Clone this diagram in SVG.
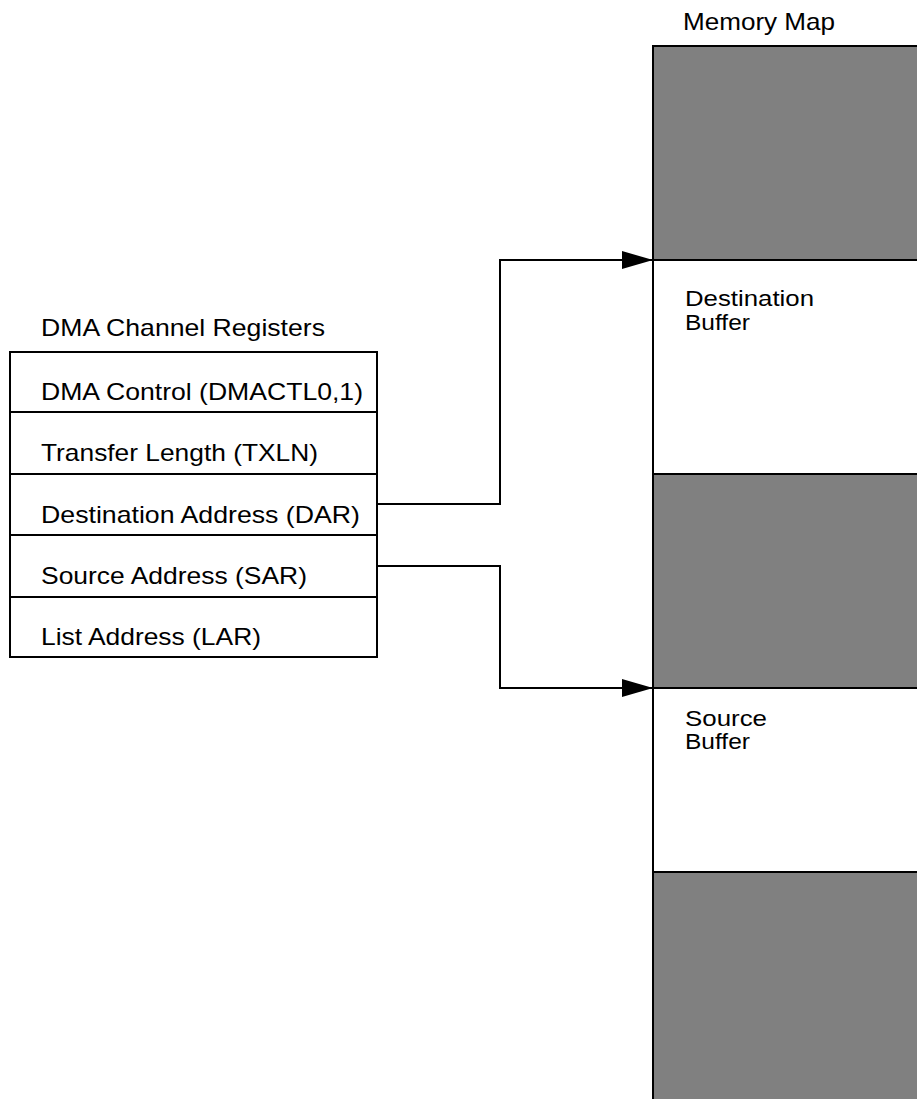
<svg xmlns="http://www.w3.org/2000/svg" width="917" height="1099" viewBox="0 0 917 1099">
<style>
text{font-family:"Liberation Sans",Arial,sans-serif;font-size:24px;fill:#000}
text.buf{font-size:22px}
.ln{stroke:#000;stroke-width:2;fill:none}
.gray{fill:#808080}
</style>
<defs>
<marker id="ah" markerWidth="32" markerHeight="20" refX="31" refY="9" orient="auto" markerUnits="userSpaceOnUse">
<path d="M0,0 L31,9 L0,18 Z" fill="#000"/>
</marker>
</defs>
<rect width="917" height="1099" fill="#fff"/>
<g id="memory-map">
<text x="683" y="30" textLength="152" lengthAdjust="spacingAndGlyphs">Memory Map</text>
<rect class="gray" x="653" y="46" width="270" height="214"/>
<rect class="gray" x="653" y="474" width="270" height="214"/>
<rect class="gray" x="653" y="872" width="270" height="230"/>
<path class="ln" d="M653,1100 V46 H920 M653,260 H920 M653,474 H920 M653,688 H920 M653,872 H920"/>
</g>
<g id="dest-buffer">
<text class="buf" x="685" y="306" textLength="129" lengthAdjust="spacingAndGlyphs">Destination</text>
<text class="buf" x="685" y="330" textLength="65" lengthAdjust="spacingAndGlyphs">Buffer</text>
</g>
<g id="source-buffer">
<text class="buf" x="685" y="726" textLength="82" lengthAdjust="spacingAndGlyphs">Source</text>
<text class="buf" x="685" y="749" textLength="65" lengthAdjust="spacingAndGlyphs">Buffer</text>
</g>
<g id="registers">
<text x="41" y="336" textLength="284" lengthAdjust="spacingAndGlyphs">DMA Channel Registers</text>
<rect class="ln" x="10" y="352" width="367" height="305"/>
<path class="ln" d="M10,412 H377 M10,474 H377 M10,535 H377 M10,597 H377"/>
<text x="41" y="400" textLength="322" lengthAdjust="spacingAndGlyphs">DMA Control (DMACTL0,1)</text>
<text x="41" y="461" textLength="277" lengthAdjust="spacingAndGlyphs">Transfer Length (TXLN)</text>
<text x="41" y="523" textLength="319" lengthAdjust="spacingAndGlyphs">Destination Address (DAR)</text>
<text x="41" y="584" textLength="266" lengthAdjust="spacingAndGlyphs">Source Address (SAR)</text>
<text x="41" y="645" textLength="220" lengthAdjust="spacingAndGlyphs">List Address (LAR)</text>
</g>
<g id="connectors">
<path class="ln" d="M377,504 H500 V260 H653" marker-end="url(#ah)"/>
<path class="ln" d="M377,566 H500 V688 H653" marker-end="url(#ah)"/>
</g>
</svg>
